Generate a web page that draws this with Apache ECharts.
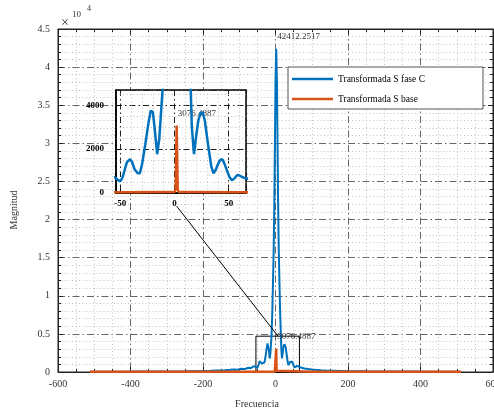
<!DOCTYPE html>
<html>
<head>
<meta charset="utf-8">
<script src="https://cdn.jsdelivr.net/npm/echarts@6/dist/echarts.min.js"></script>
<style>
  html, body { margin: 0; padding: 0; background: #fff; }
  #chart { width: 494px; height: 410px; }
</style>
</head>
<body>
<div id="chart"></div>
<script>
// Frequency axis (Hz) and magnitude of each spectrum
const freqFaseC = [-512, -450, -400, -350, -300, -250, -220, -200, -180, -160, -140, -125, -115, -105, -95, -85, -75, -68, -62,
  -56, -54, -52, -50, -48, -46, -44, -41, -39, -37, -34, -32, -30, -27, -24, -22, -21, -20, -18, -16, -14, -12,
  -11, -9, -7, -5, -3, -1, 0, 2, 4, 5, 7, 9, 11, 13, 15,
  16, 18, 20, 22, 24, 26, 28, 31, 34, 36, 38, 40, 42, 44, 46, 49, 51, 53, 55, 58, 60, 62, 64, 66,
  72, 80, 90, 100, 110, 125, 140, 160, 180, 200, 250, 300, 350, 400, 450, 512];
const magFaseC = [40, 45, 50, 60, 70, 90, 110, 130, 150, 190, 230, 280, 330, 300, 420, 380, 560, 480, 720,
  720, 680, 580, 545, 700, 1050, 1400, 1545, 1400, 1100, 900, 900, 1300, 2200, 3200, 3750, 3800, 3700, 2800, 1770, 2500, 4000,
  4700, 7500, 11500, 16000, 23000, 33000, 38000, 42412.2517, 38000, 33000, 23000, 16000, 11500, 7500, 4700,
  3000, 1770, 2600, 3300, 3650, 3680, 3300, 2200, 1200, 900, 1050, 1300, 1500, 1545, 1350, 950, 700, 590, 650, 820, 800, 740, 700, 680,
  560, 450, 380, 320, 280, 230, 200, 170, 140, 120, 90, 70, 60, 50, 45, 40];

const freqBase = [-512, -100, -2, 0, 1, 2, 3, 4, 6, 100, 512];
const magBase = [30, 35, 40, 50, 150, 3076.4887, 150, 50, 40, 35, 30];

const seriesNames = ['Transformada S fase C', 'Transformada S base'];

// Main axes ticks
const xTicks = { min: -600, max: 600, step: 200 };
const yTicks = { min: 0, max: 45000, step: 5000, scale: 1e4 };

// Zoomed region shown in the inset
const zoomX = [-54, 66];
const zoomY = [0, 4700];
const zoomXMinor = [-40, -30, -20, -10, 10, 20, 30, 40, 60];
const zoomYMinor = [500, 1000, 1500, 2500, 3000, 3500, 4500];
const zoomYStep = 2000;

const peakFaseC = 42412.2517;
const peakBase = 3076.4887;

const FONT = '"Liberation Serif", "Times New Roman", serif';
const BLUE = '#0072BD';
const ORANGE = '#D95319';
const MAJOR = { color: '#666', width: 1, type: [7, 3, 1.5, 3] };
const MINOR = { color: '#c2c2c2', width: 1, type: [1, 2.5] };

const pair = (xs, ys) => xs.map((x, i) => [x, ys[i]]);

const chart = echarts.init(document.getElementById('chart'), null, { renderer: 'canvas' });

const tickStyle = { lineStyle: { color: '#222', width: 1 } };

// Data tip text placed just above and to the right of a point
const valueTip = (coord, value) => ({
  symbol: 'circle', symbolSize: 0, silent: true,
  label: { show: true, position: [1, -12], align: 'left', verticalAlign: 'middle', fontFamily: FONT, fontSize: 9, color: '#333',
    formatter: p => p.value.toFixed(4) },
  data: [{ coord: coord, value: value }]
});

const option = {
  animation: false,
  backgroundColor: '#fff',
  textStyle: { fontFamily: FONT },
  grid: [
    { left: 58, right: 1, top: 29, bottom: 38, show: true, borderColor: '#222', borderWidth: 1, backgroundColor: '#fff',
      containLabel: false, outerBoundsMode: 'none' },
    { left: 116, top: 90, width: 130, height: 103, show: true, borderColor: '#000', borderWidth: 1.5, backgroundColor: '#fff', z: 5,
      containLabel: false, outerBoundsMode: 'none' }
  ],
  xAxis: [
    {
      gridIndex: 0, type: 'value', min: xTicks.min, max: xTicks.max, interval: xTicks.step,
      axisLine: { show: true, onZero: false, lineStyle: { color: '#222' } },
      axisTick: { inside: true, length: 5, ...tickStyle },
      minorTick: { show: true, splitNumber: 4, length: 3, lineStyle: { color: '#222' } },
      splitLine: { show: true, lineStyle: MAJOR },
      minorSplitLine: { show: true, lineStyle: MINOR },
      axisLabel: { fontFamily: FONT, fontSize: 10, color: '#333', margin: 7 }
    },
    {
      gridIndex: 0, type: 'value', position: 'top', min: xTicks.min, max: xTicks.max, interval: xTicks.step,
      axisLine: { show: true, onZero: false, lineStyle: { color: '#222' } },
      axisTick: { inside: true, length: 5, ...tickStyle },
      minorTick: { show: true, splitNumber: 4, length: 3, lineStyle: { color: '#222' } },
      splitLine: { show: false }, axisLabel: { show: false }
    },
    {
      gridIndex: 1, type: 'value', min: zoomX[0], max: zoomX[1], splitNumber: 2, z: 6,
      axisLine: { show: true, onZero: false, lineStyle: { color: '#000', width: 1.5 } },
      axisTick: { inside: true, length: 4, lineStyle: { color: '#000' } },
      splitLine: { show: true, lineStyle: { color: '#222', width: 1, type: [6, 3, 1.5, 3] } },
      axisLabel: { fontFamily: FONT, fontSize: 9, fontWeight: 'bold', color: '#000', margin: 6,
        showMinLabel: false, showMaxLabel: false, formatter: v => String(v) }
    }
  ],
  yAxis: [
    {
      gridIndex: 0, type: 'value', min: yTicks.min, max: yTicks.max, interval: yTicks.step,
      axisLine: { show: true, onZero: false, lineStyle: { color: '#222' } },
      axisTick: { inside: true, length: 5, ...tickStyle },
      minorTick: { show: true, splitNumber: 5, length: 3, lineStyle: { color: '#222' } },
      splitLine: { show: true, lineStyle: MAJOR },
      minorSplitLine: { show: true, lineStyle: MINOR },
      axisLabel: { fontFamily: FONT, fontSize: 10, color: '#333', margin: 8, padding: [0, 0, 10, 0],
        formatter: v => String(+(v / yTicks.scale).toFixed(1)) }
    },
    {
      gridIndex: 0, type: 'value', position: 'right', min: yTicks.min, max: yTicks.max, interval: yTicks.step,
      axisLine: { show: true, onZero: false, lineStyle: { color: '#222' } },
      axisTick: { inside: true, length: 5, ...tickStyle },
      minorTick: { show: true, splitNumber: 5, length: 3, lineStyle: { color: '#222' } },
      splitLine: { show: false }, axisLabel: { show: false }
    },
    {
      gridIndex: 1, type: 'value', min: zoomY[0], max: zoomY[1], interval: zoomYStep, z: 6,
      axisLine: { show: true, onZero: false, lineStyle: { color: '#000', width: 1.5 } },
      axisTick: { inside: true, length: 4, lineStyle: { color: '#000' } },
      splitLine: { show: true, lineStyle: { color: '#222', width: 1, type: [6, 3, 1.5, 3] } },
      axisLabel: { fontFamily: FONT, fontSize: 9, fontWeight: 'bold', color: '#000', margin: 12, padding: [0, 0, 8, 0],
        showMaxLabel: false, formatter: v => String(v) }
    }
  ],
  legend: {
    show: true, orient: 'vertical', left: 292, top: 74, padding: 0, itemWidth: 41, itemHeight: 2.5, itemGap: 10,
    icon: 'rect', z: 21,
    textStyle: { fontFamily: FONT, fontSize: 9.5, color: '#000', padding: [0, 0, 8, 0] },
    data: seriesNames
  },
  series: [
    {
      name: seriesNames[0], type: 'line', xAxisIndex: 0, yAxisIndex: 0, showSymbol: false, symbol: 'none',
      data: pair(freqFaseC, magFaseC), color: BLUE, lineStyle: { color: BLUE, width: 2 }, z: 2,
      markPoint: valueTip([freqFaseC[magFaseC.indexOf(peakFaseC)], peakFaseC], peakFaseC),
      markArea: {
        silent: true,
        itemStyle: { color: 'rgba(0,0,0,0)', borderColor: '#000', borderWidth: 1 },
        data: [[{ xAxis: zoomX[0], yAxis: zoomY[0] }, { xAxis: zoomX[1], yAxis: zoomY[1] }]]
      }
    },
    {
      name: seriesNames[1], type: 'line', xAxisIndex: 0, yAxisIndex: 0, showSymbol: false, symbol: 'none',
      data: pair(freqBase, magBase), color: ORANGE, lineStyle: { color: ORANGE, width: 2.5 }, z: 3,
      markPoint: valueTip([freqBase[magBase.indexOf(peakBase)], peakBase], peakBase)
    },
    {
      name: seriesNames[0], type: 'line', xAxisIndex: 2, yAxisIndex: 2, showSymbol: false, symbol: 'none',
      data: pair(freqFaseC, magFaseC), color: BLUE, lineStyle: { color: BLUE, width: 2.5 }, z: 7, clip: true,
      markLine: {
        silent: true, symbol: 'none', label: { show: false }, z: 6,
        lineStyle: MINOR,
        emphasis: { disabled: true },
        data: zoomXMinor.map(v => ({ xAxis: v })).concat(zoomYMinor.map(v => ({ yAxis: v })))
      }
    },
    {
      name: seriesNames[1], type: 'line', xAxisIndex: 2, yAxisIndex: 2, showSymbol: false, symbol: 'none',
      data: pair(freqBase, magBase), color: ORANGE, lineStyle: { color: ORANGE, width: 2.5 }, z: 8, clip: true,
      markPoint: valueTip([freqBase[magBase.indexOf(peakBase)], peakBase], peakBase)
    }
  ]
};

chart.setOption(option);

// Connector from the inset down to the zoomed rectangle, plus labels and legend frame
const from = chart.convertToPixel({ gridIndex: 1 }, [2, -600]);
const to = chart.convertToPixel({ gridIndex: 0 }, [7, zoomY[1]]);

chart.setOption({
  graphic: [
    { type: 'line', z: 15, shape: { x1: from[0], y1: from[1], x2: to[0], y2: to[1] }, style: { stroke: '#000', lineWidth: 1 } },
    { type: 'rect', z: 20, shape: { x: 288, y: 67, width: 195, height: 42 }, style: { fill: '#fff', stroke: '#555', lineWidth: 1 } },
    { type: 'text', z: 20, left: 61, top: 16, style: { text: '\u00d7', font: '14px ' + FONT, fill: '#333' } },
    { type: 'text', z: 20, left: 72, top: 10, style: { text: '10', font: '9px ' + FONT, fill: '#333' } },
    { type: 'text', z: 20, left: 87, top: 5, style: { text: '4', font: '8px ' + FONT, fill: '#333' } },
    { type: 'text', z: 20, x: 257, y: 404, style: { text: 'Frecuencia', font: '10px ' + FONT, fill: '#333', align: 'center', verticalAlign: 'middle' } },
    { type: 'text', z: 20, x: 14, y: 210, rotation: Math.PI / 2, style: { text: 'Magnitud', font: '10px ' + FONT, fill: '#333', align: 'center', verticalAlign: 'middle' } }
  ]
});
</script>
</body>
</html>
